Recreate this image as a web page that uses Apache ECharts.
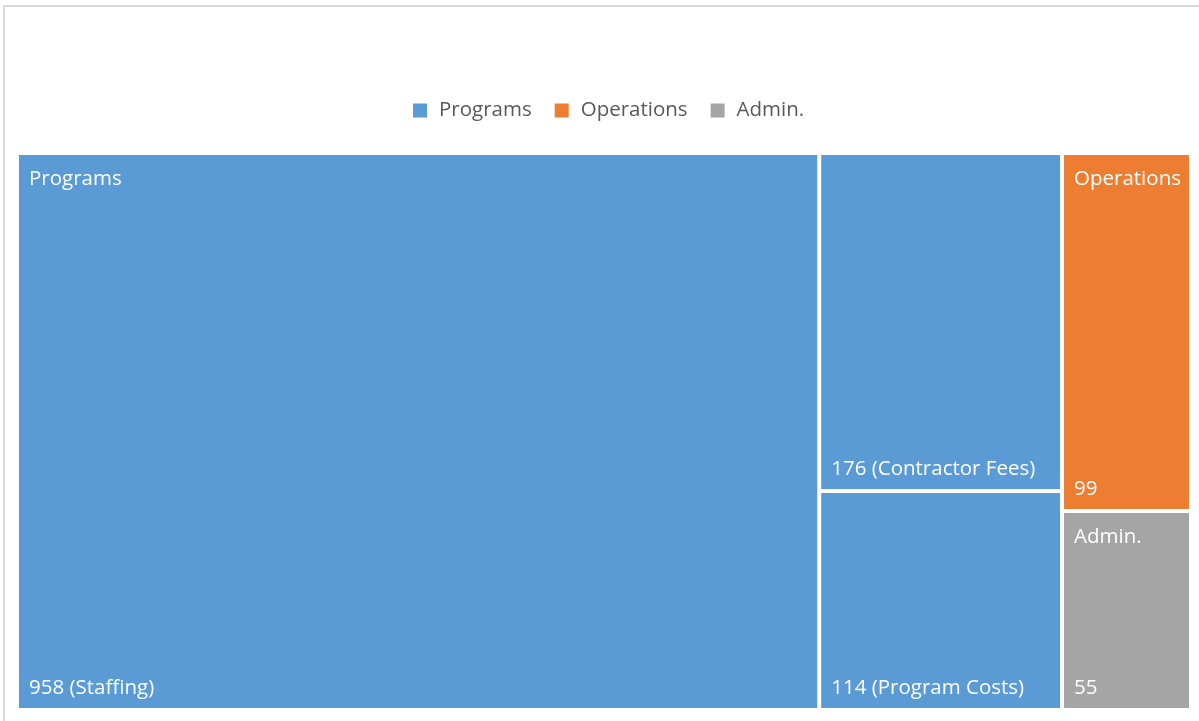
<!DOCTYPE html>
<html>
<head>
<meta charset="utf-8">
<script src="https://cdn.jsdelivr.net/npm/echarts@6/dist/echarts.min.js"></script>
<style>
html,body{margin:0;padding:0;background:#fff;}
#frame{position:absolute;left:3px;top:5px;width:1300px;height:800px;border-left:2px solid #d9d9d9;border-top:2px solid #d9d9d9;}
#chart{position:absolute;left:0;top:0;width:1199px;height:721px;}
</style>
</head>
<body>
<div id="frame"></div>
<div id="chart"></div>
<script>
// ---- data ----
const groups = ['Programs', 'Operations', 'Admin.'];
const groupColors = ['#5B9BD5', '#ED7D31', '#A5A5A5'];
const programItems = ['Staffing', 'Contractor Fees', 'Program Costs'];
const programValues = [958, 176, 114];
const operationsValue = 99;
const adminValue = 55;

// ---- build tree ----
function buildTree(){
  return [
    {
      name: groups[0],
      itemStyle: {color: groupColors[0]},
      children: programItems.map((n, i) => ({
        name: n, value: programValues[i],
        topText: i === 0 ? groups[0] : '',
        bottomText: programValues[i] + ' (' + n + ')',
        itemStyle: {color: groupColors[0]}
      }))
    },
    {name: groups[1], value: operationsValue, topText: groups[1], bottomText: String(operationsValue), itemStyle: {color: groupColors[1]}},
    {name: groups[2], value: adminValue, topText: groups[2], bottomText: String(adminValue), itemStyle: {color: groupColors[2]}}
  ];
}

const FONT = '"Open Sans", "Noto Sans", sans-serif';
const box = {left: 19, top: 155, right: 10, bottom: 13};

function treemapSeries(name, top, transparent){
  const data = buildTree();
  if (transparent) {
    const strip = (arr) => arr.forEach(d => {
      d.itemStyle = {color: 'rgba(0,0,0,0)'};
      if (d.children) strip(d.children);
    });
    strip(data);
  }
  const bc = transparent ? 'rgba(0,0,0,0)' : '#ffffff';
  return {
    type: 'treemap',
    name: name,
    left: box.left, top: box.top, right: box.right, bottom: box.bottom,
    roam: false, nodeClick: false, silent: true,
    breadcrumb: {show: false},
    sort: 'desc',
    animation: false,
    label: {
      show: true,
      position: top ? 'insideTopLeft' : 'insideBottomLeft',
      distance: 0,
      padding: top ? [14, 0, 0, 10] : [0, 0, 9, 10],
      overflow: 'none',
      color: '#ffffff',
      fontFamily: FONT,
      fontSize: 20.5,
      formatter: p => top ? (p.data.topText || '') : (p.data.bottomText || '')
    },
    upperLabel: {show: false},
    itemStyle: {borderWidth: 0, gapWidth: 4, borderColor: bc},
    levels: [
      {itemStyle: {borderWidth: 0, gapWidth: 4, borderColor: bc}},
      {itemStyle: {borderWidth: 0, gapWidth: 4, borderColor: bc}},
      {itemStyle: {borderWidth: 0, gapWidth: 0}}
    ],
    emphasis: {disabled: true},
    data: data
  };
}

const chart = echarts.init(document.getElementById('chart'), null, {renderer: 'canvas'});
chart.setOption({
  backgroundColor: 'transparent',
  animation: false,
  legend: {
    data: groups,
    top: 95,
    left: 408,
    icon: 'rect',
    itemWidth: 14,
    itemHeight: 14,
    itemGap: 23,
    textStyle: {fontFamily: FONT, fontSize: 20.5, color: '#595959', padding: [0, 0, 0, 7]},
    selectedMode: false
  },
  grid: {left: 0, top: 0, width: 1, height: 1, show: false},
  xAxis: {show: false, type: 'value'},
  yAxis: {show: false, type: 'value'},
  series: [
    treemapSeries('tm-top', true, false),
    treemapSeries('tm-bottom', false, true)
  ].concat(groups.map((g, i) => ({
    type: 'scatter', name: g, data: [], itemStyle: {color: groupColors[i], opacity: 1}
  })))
});
</script>
</body>
</html>
